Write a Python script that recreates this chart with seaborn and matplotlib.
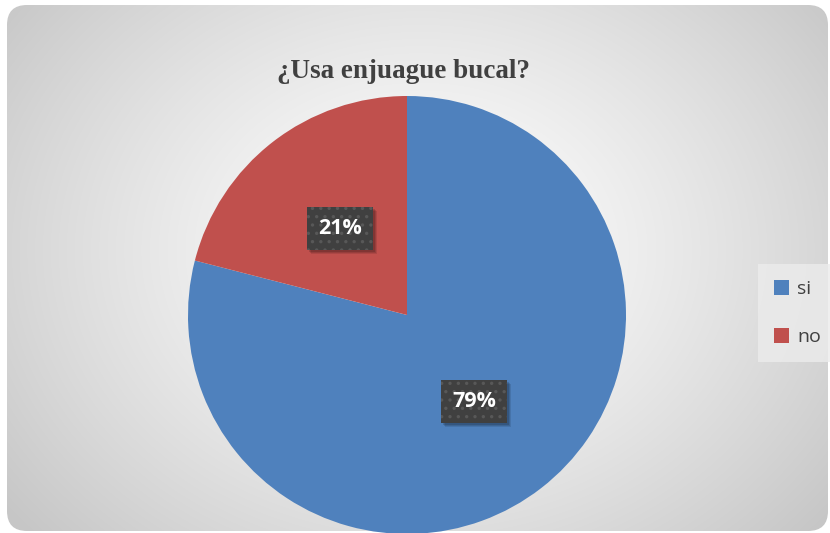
import numpy as np
import matplotlib
matplotlib.use("Agg")
import matplotlib.pyplot as plt
import seaborn as sns
from matplotlib.patches import FancyBboxPatch, Rectangle

# Survey answers
categories = ["si", "no"]
values = [79, 21]
colors = ["#4F81BD", "#C0504D"]
title = "¿Usa enjuague bucal?"

sns.set_theme(style="white")
plt.rcParams["font.family"] = ["Open Sans", "DejaVu Sans"]
plt.rcParams["hatch.linewidth"] = 1.2

W, H = 830, 533
fig = plt.figure(figsize=(W / 100, H / 100), dpi=100)
fig.patch.set_facecolor("white")

# Background panel with a radial gradient, clipped to a rounded rectangle
bg = fig.add_axes([0, 0, 1, 1], zorder=0)
bg.set_xlim(0, W)
bg.set_ylim(H, 0)
bg.axis("off")
yy, xx = np.mgrid[0:H, 0:W]
cx, cy = 420, 250
r = np.sqrt(((xx - cx) / 520.0) ** 2 + ((yy - cy) / 420.0) ** 2)
r = np.clip(r, 0, 1)
shade = 1.0 - 0.22 * r ** 1.3
img = np.dstack([shade, shade, shade])
im = bg.imshow(img, extent=(0, W, H, 0), interpolation="bilinear", zorder=0)
panel = FancyBboxPatch((7, 5), 821, 526, boxstyle="round,pad=0,rounding_size=20",
                       transform=bg.transData, facecolor="none", edgecolor="none")
bg.add_patch(panel)
im.set_clip_path(panel)

# Pie
R = 219
pcx, pcy = 407, 315
ax = fig.add_axes([(pcx - R) / W, (H - pcy - R) / H, 2 * R / W, 2 * R / H], zorder=2)
ax.set_facecolor("none")
wedges, texts, autotexts = ax.pie(
    values, colors=colors, startangle=90, counterclock=False,
    autopct="%1.0f%%", pctdistance=0.5, radius=1.0,
    wedgeprops=dict(linewidth=0),
    textprops=dict(color="white", fontsize=15.5, fontweight="bold"),
)
ax.set_xlim(-1, 1)
ax.set_ylim(-1, 1)
ax.set_aspect("equal")

for t in autotexts:
    t.set_zorder(5)
    t.set_bbox(dict(boxstyle="square,pad=0.5", facecolor="#404040",
                    edgecolor="#585858", linewidth=0, hatch=".."))

# Title
fig.text(403 / W, 1 - 72 / H, title, ha="center", va="center",
         fontsize=19.5, fontweight="bold", color="#404040",
         family=["Liberation Serif", "DejaVu Serif"])

# Legend
leg = fig.legend(wedges, categories, loc="center left",
                 bbox_to_anchor=(758 / W, 1 - 313 / H), borderaxespad=0,
                 frameon=True, fontsize=14, handlelength=0.8, handleheight=0.8,
                 handletextpad=0.4, labelspacing=1.55, borderpad=0.8,
                 fancybox=False)
leg.get_frame().set_facecolor("#ececec")
leg.get_frame().set_edgecolor("none")
leg.get_frame().set_alpha(0.8)
for txt in leg.get_texts():
    txt.set_color("#404040")

# Drop shadows under the label boxes, placed from their rendered extents
fig.canvas.draw()
for t in autotexts:
    ext = t.get_bbox_patch().get_window_extent()
    for k, a in ((4, 0.10), (3, 0.12), (2, 0.14)):
        ax.add_patch(Rectangle((ext.x0 + k, ext.y0 - k), ext.width, ext.height,
                               transform=None, facecolor="black", alpha=a,
                               linewidth=0, zorder=4))

fig.savefig("out.png", dpi=100, facecolor="white")
